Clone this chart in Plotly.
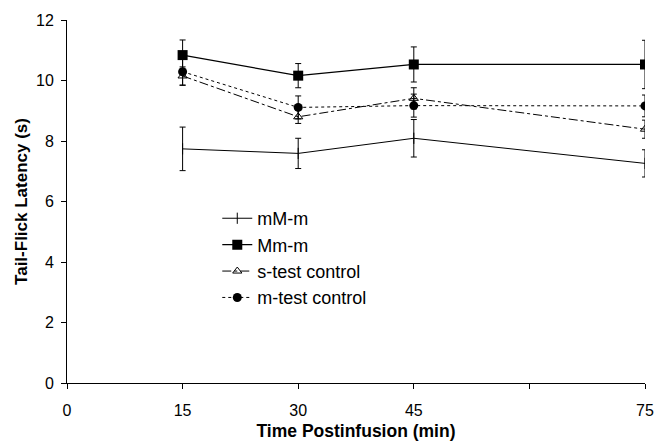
import plotly.graph_objects as go

# Data
time_min = [15, 30, 45, 75]

mMm_vals = [7.74, 7.59, 8.09, 7.26]
mMm_err = [0.72, 0.50, 0.62, 0.45]

Mmm_vals = [10.84, 10.16, 10.53, 10.53]
Mmm_err = [0.50, 0.40, 0.58, 0.80]

stest_vals = [10.15, 8.80, 9.41, 8.39]
stest_err = [0.30, 0.22, 0.35, 0.30]

mtest_vals = [10.29, 9.11, 9.17, 9.16]
mtest_err = [0.45, 0.38, 0.38, 0.36]

x_tickvals = [0, 15, 30, 45, 60, 75]
x_ticktext = ["0", "15", "30", "45", "", "75"]
y_tickvals = [0, 2, 4, 6, 8, 10, 12]

FONT = "Liberation Sans, Arial, sans-serif"

def err(vals):
    return dict(type="data", array=vals, visible=True, color="black",
                thickness=1, width=3)

fig = go.Figure()
fig.add_trace(go.Scatter(
    x=time_min, y=mMm_vals, name="mM-m", mode="lines+markers",
    line=dict(color="black", width=1),
    marker=dict(symbol="line-ns-open", size=8, color="black",
                line=dict(color="black", width=1)),
    error_y=err(mMm_err)))
fig.add_trace(go.Scatter(
    x=time_min, y=Mmm_vals, name="Mm-m", mode="lines+markers",
    line=dict(color="black", width=1.2),
    marker=dict(symbol="square", size=10, color="black"),
    error_y=err(Mmm_err)))
fig.add_trace(go.Scatter(
    x=time_min, y=stest_vals, name="s-test control", mode="lines+markers",
    line=dict(color="black", width=1, dash="dashdot"),
    marker=dict(symbol="triangle-up-open", size=8, color="black",
                line=dict(color="black", width=1)),
    error_y=err(stest_err)))
fig.add_trace(go.Scatter(
    x=time_min, y=mtest_vals, name="m-test control", mode="lines+markers",
    line=dict(color="black", width=1, dash="dot"),
    marker=dict(symbol="circle", size=9, color="black"),
    error_y=err(mtest_err)))

fig.update_layout(
    width=655, height=441,
    margin=dict(l=67, r=10, t=20, b=58),
    paper_bgcolor="white", plot_bgcolor="white",
    font=dict(family=FONT, color="black", size=16),
    showlegend=True,
    legend=dict(x=0.26, y=0.504, xanchor="left", yanchor="top",
                bgcolor="rgba(0,0,0,0)", font=dict(size=18),
                itemwidth=30, tracegroupgap=0),
    xaxis=dict(range=[0, 75], tickvals=x_tickvals, ticktext=x_ticktext,
               showline=True, linecolor="black", linewidth=1,
               ticks="outside", ticklen=5, tickcolor="black",
               showgrid=False, zeroline=False, automargin=False,
               ticklabelstandoff=8,
               title=dict(text="<b>Time Postinfusion (min)</b>",
                          font=dict(size=17.5), standoff=9)),
    yaxis=dict(range=[0, 12], tickvals=y_tickvals,
               showline=True, linecolor="black", linewidth=1,
               ticks="outside", ticklen=5, tickcolor="black",
               showgrid=False, zeroline=False, automargin=False,
               ticklabelstandoff=4,
               title=dict(text="<b>Tail-Flick Latency (s)</b>",
                          font=dict(size=17), standoff=4)),
)

fig.write_html("out.html")
